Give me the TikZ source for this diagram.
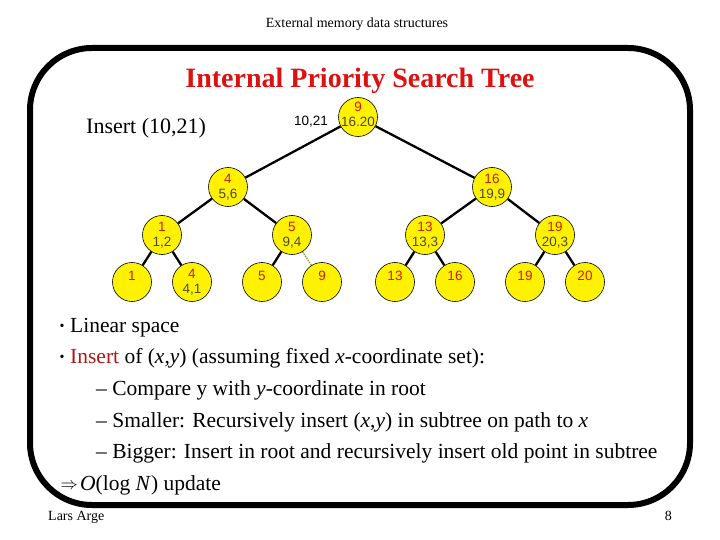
\documentclass[tikz,border=0pt]{standalone}
\usepackage{fontspec}
\setmainfont{Liberation Serif}
\newfontfamily\nodefont{Liberation Sans}
\usetikzlibrary{backgrounds}
\definecolor{titlered}{HTML}{DD1111}
\definecolor{insred}{HTML}{B01818}
\definecolor{numred}{HTML}{D02000}
\definecolor{numgray}{HTML}{4A4A30}
\definecolor{dotgreen}{HTML}{8AA040}
\tikzset{
  pnode/.style={circle, draw=black, fill=yellow, minimum size=39pt, inner sep=0pt, line width=0.6pt},
  toptxt/.style={font=\nodefont\fontsize{13.5}{13.5}\selectfont, text=numred, inner sep=0pt},
  bottxt/.style={font=\nodefont\fontsize{13.5}{13.5}\selectfont, text=numgray, inner sep=0pt},
  edge/.style={line width=2.3pt, black},
  body/.style={font=\fontsize{21.5}{24}\selectfont, anchor=base west, inner sep=0pt},
}
\newcommand{\pst}[6]{%
  \node[pnode] (#1) at (#2) {};
  \node[toptxt] (#1t) at ([yshift=#5]#1.center) {#3};
  \node[bottxt] (#1b) at ([yshift=#6]#1.center) {#4};
}
\begin{document}
\begin{tikzpicture}[x=1pt,y=-1pt]
\useasboundingbox (0,0) rectangle (720,540);
% header/footer
\node[font=\fontsize{14}{14}\selectfont, anchor=base] (hdr) at (357,28) {External memory data structures};
\node[font=\fontsize{14}{14}\selectfont, anchor=base west, inner sep=0pt] (ftl) at (48,520) {Lars Arge};
\node[font=\fontsize{14}{14}\selectfont, anchor=base east, inner sep=0pt] (ftr) at (672,520) {8};
% frame
\draw[line width=6pt, rounded corners=62pt] (30,48) rectangle (690,505);
% title
\node[font=\bfseries\fontsize{28}{28}\selectfont, text=titlered, anchor=base] (title) at (360,88) {Internal Priority Search Tree};
\node[font=\fontsize{22}{22}\selectfont, anchor=base west, inner sep=0pt] (ins) at (86,134) {Insert (10,21)};
\coordinate (cr) at (358,117);
\coordinate (ca) at (228,187);
\coordinate (cb) at (492,187);
\coordinate (caa) at (162,235);
\coordinate (cab) at (292,235);
\coordinate (cba) at (425,235);
\coordinate (cbb) at (555,235);
% nodes
\pst{r}{cr}{9}{16.20}{10pt}{-5pt}
\pst{a}{ca}{4}{5,6}{8pt}{-8pt}
\pst{b}{cb}{16}{19,9}{8pt}{-8pt}
\pst{aa}{caa}{1}{1,2}{8pt}{-8pt}
\pst{ab}{cab}{5}{9,4}{8pt}{-8pt}
\pst{ba}{cba}{13}{13,3}{8pt}{-8pt}
\pst{bb}{cbb}{19}{20,3}{8pt}{-8pt}
\pst{l1}{132,282}{1}{}{6pt}{-8pt}
\pst{l2}{192,282}{4}{4,1}{8pt}{-8pt}
\pst{l3}{262,282}{5}{}{6pt}{-8pt}
\pst{l4}{322,282}{9}{}{6pt}{-8pt}
\pst{l5}{395,282}{13}{}{6pt}{-8pt}
\pst{l6}{455,282}{16}{}{6pt}{-8pt}
\pst{l7}{525,282}{19}{}{6pt}{-8pt}
\pst{l8}{585,282}{20}{}{6pt}{-8pt}
\begin{scope}[on background layer]
\draw[edge] (r) -- (a);
\draw[edge] (r) -- (b);
\draw[edge] (a) -- (aa);
\draw[edge] (a) -- (ab);
\draw[edge] (b) -- (ba);
\draw[edge] (b) -- (bb);
\draw[edge] (aa) -- (l1);
\draw[edge] (aa) -- (l2);
\draw[edge] (ab) -- (l3);
\draw[line width=1.4pt, dotgreen, densely dotted] (ab) -- (l4);
\draw[edge] (ba) -- (l5);
\draw[edge] (ba) -- (l6);
\draw[edge] (bb) -- (l7);
\draw[edge] (bb) -- (l8);
\end{scope}
\node[font=\nodefont\fontsize{13.5}{13.5}\selectfont, anchor=east, inner sep=0pt] (lbl) at (328,122) {10,21};
% bullets
\node[body] (t1) at (70,332) {Linear space};
\node[body] (t2) at (70,363.5) {\textcolor{insred}{Insert} of (\textit{x},\textit{y}) (assuming fixed \textit{x}-coordinate set):};
\node[body] (t3) at (96,395) {– Compare y with \textit{y}-coordinate in root};
\node[body] (t4) at (96,427) {– Smaller: Recursively insert (\textit{x},\textit{y}) in subtree on path to \textit{x}};
\node[body] (t5) at (96,458.5) {– Bigger: Insert in root and recursively insert old point in subtree};
\node[body] (t6) at (80,490) {\textit{O}(log \textit{N}) update};
\node[font=\fontsize{14}{14}\selectfont, anchor=base, inner sep=0pt] (b1) at (62,330) {•};
\node[font=\fontsize{14}{14}\selectfont, anchor=base, inner sep=0pt] (b2) at (62,361.5) {•};
\node[font=\fontsize{18}{18}\selectfont, anchor=base east, inner sep=0pt] (imp) at (78,489) {$\Rightarrow$};
\end{tikzpicture}
\end{document}
